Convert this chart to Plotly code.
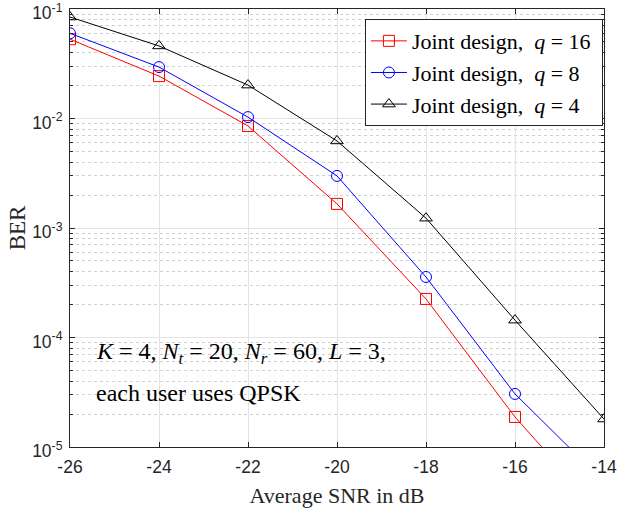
import plotly.graph_objects as go

snr = [-26, -24, -22, -20, -18, -16, -14]
ber_q16 = [0.053, 0.0244, 0.00855, 0.00166, 0.000225, 1.88e-5, 2.3e-6]
ber_q8 = [0.060, 0.0295, 0.0103, 0.00299, 0.000357, 3.05e-5, 4.8e-6]
ber_q4 = [0.0845, 0.046, 0.0202, 0.00624, 0.00123, 0.000144, 1.8e-5]

series_names = ["Joint design,  <i>q</i> = 16\u00a0",
                "Joint design,  <i>q</i> = 8\u00a0",
                "Joint design,  <i>q</i> = 4\u00a0"]
series_colors = ["#ff0000", "#0000ff", "#000000"]
series_symbols = ["square-open", "circle-open", "triangle-up-open"]

x_ticks = [-26, -24, -22, -20, -18, -16, -14]
x_ticktext = ["-26", "-24", "-22", "-20", "-18", "-16", "-14"]
y_exps = [-5, -4, -3, -2, -1]

fig = go.Figure()
for ys, name, col, sym in zip([ber_q16, ber_q8, ber_q4], series_names, series_colors, series_symbols):
    fig.add_trace(go.Scatter(
        x=snr, y=ys, name=name, mode="lines+markers",
        line=dict(color=col, width=1),
        marker=dict(symbol=sym, size=11, color=col, line=dict(width=1, color=col)),
    ))

minor_vals = [k * 10.0 ** e for e in y_exps[:-1] for k in range(2, 10)]
axis_col = "#262626"
grid_col = "#e3e3e3"

fig.update_layout(
    width=617, height=511,
    margin=dict(l=70, r=13, t=9, b=64, autoexpand=False),
    paper_bgcolor="white", plot_bgcolor="white",
    font=dict(family="Liberation Serif", color="black"),
    legend=dict(
        x=0.998, y=0.977, xanchor="right", yanchor="top",
        bgcolor="white", bordercolor=axis_col, borderwidth=1,
        font=dict(family="Liberation Serif", size=22, color="black"),
        tracegroupgap=0, itemwidth=36,
    ),
    showlegend=True,
)
fig.update_xaxes(
    range=[-26, -14], tickvals=x_ticks, ticktext=x_ticktext,
    ticks="inside", ticklen=5, tickcolor=axis_col, automargin=False,
    ticklabeloverflow="allow", ticklabelstandoff=4,
    showline=True, linecolor=axis_col, linewidth=1, mirror="ticks",
    showgrid=True, gridcolor=grid_col, gridwidth=1, zeroline=False,
    tickfont=dict(family="Liberation Sans", size=17.5, color=axis_col),
    title=dict(text="Average SNR in dB", font=dict(family="Liberation Serif", size=22, color=axis_col), standoff=11),
)
fig.update_yaxes(
    type="log", range=[-5.0002, -0.9998],
    tickvals=[10.0 ** e for e in y_exps],
    ticktext=["10<sup>%d</sup>" % e for e in y_exps],
    ticks="inside", ticklen=5, tickcolor=axis_col, automargin=False,
    ticklabeloverflow="allow", ticklabelshift=4, ticklabelstandoff=3,
    showline=True, linecolor=axis_col, linewidth=1, mirror="ticks",
    showgrid=True, gridcolor=grid_col, gridwidth=1, zeroline=False,
    tickfont=dict(family="Liberation Sans", size=17.5, color=axis_col),
    minor=dict(tickvals=minor_vals, ticks="inside", ticklen=3, tickcolor=axis_col,
               showgrid=True, gridcolor="#cfcfcf", griddash="dot", gridwidth=1),
    title=dict(text="BER", font=dict(family="Liberation Serif", size=23, color=axis_col), standoff=0),
)

fig.add_annotation(
    xref="paper", yref="paper", x=0.045, y=0.214, xanchor="left", yanchor="middle",
    text="<i>K</i> = 4, <i>N</i><sub><i>t</i></sub> = 20, <i>N</i><sub><i>r</i></sub> = 60, <i>L</i> = 3,",
    showarrow=False, font=dict(family="Liberation Serif", size=24, color="black"),
)
fig.add_annotation(
    xref="paper", yref="paper", x=0.045, y=0.124, xanchor="left", yanchor="middle",
    text="each user uses QPSK",
    showarrow=False, font=dict(family="Liberation Serif", size=24, color="black"),
)

fig.write_html("out.html")
